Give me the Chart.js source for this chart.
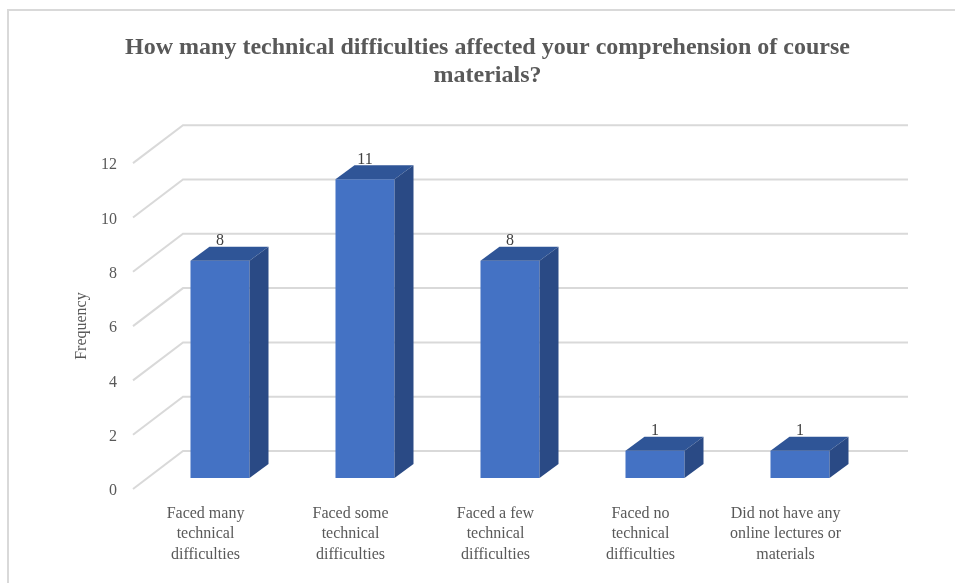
<!DOCTYPE html>
<html>
<head>
<meta charset="utf-8">
<script src="https://cdn.jsdelivr.net/npm/chart.js@4.4.1/dist/chart.umd.min.js"></script>
<style>
    html, body { margin: 0; padding: 0; background: #fff; }
</style>
</head>
<body>
<canvas id="chart" width="955" height="583"></canvas>
<script>
// Chart data
const categories = [
    ['Faced many', 'technical', 'difficulties'],
    ['Faced some', 'technical', 'difficulties'],
    ['Faced a few', 'technical', 'difficulties'],
    ['Faced no', 'technical', 'difficulties'],
    ['Did not have any', 'online lectures or', 'materials']
];
const frequency = [8, 11, 8, 1, 1];
const yTicks = [0, 2, 4, 6, 8, 10, 12];
const titleLines = ['How many technical difficulties affected your comprehension of course', 'materials?'];

// 3D look
const WALL = { dx: 50, dy: -38 };     // depth of the back wall
const BAR_POS = { dx: 14.5, dy: -11 }; // where the bar front sits
const BAR_DEPTH = { dx: 19, dy: -14 }; // bar thickness
const GRID_COLOR = '#d9d9d9';
const FRONT_COLOR = '#4472c4';
const TOP_COLOR = '#2f5597';
const SIDE_COLOR = '#2a4a85';
const TEXT_COLOR = '#595959';

const serif = "'Liberation Serif', 'Times New Roman', serif";

const threeD = {
    id: 'threeD',
    beforeDraw(chart) {
        const ctx = chart.ctx;
        ctx.save();
        ctx.fillStyle = '#fff';
        ctx.fillRect(0, 0, chart.width, chart.height);
        ctx.strokeStyle = GRID_COLOR;
        ctx.lineWidth = 2;
        ctx.strokeRect(8, 10, chart.width + 20, chart.height + 20);
        ctx.restore();
    },
    beforeDatasetsDraw(chart) {
        const ctx = chart.ctx;
        const y = chart.scales.y;
        const area = chart.chartArea;
        ctx.save();
        ctx.strokeStyle = GRID_COLOR;
        ctx.lineWidth = 2;
        yTicks.forEach(v => {
            const py = y.getPixelForValue(v);
            ctx.beginPath();
            ctx.moveTo(area.left, py);
            ctx.lineTo(area.left + WALL.dx, py + WALL.dy);
            ctx.lineTo(area.right + WALL.dx, py + WALL.dy);
            ctx.stroke();
        });
        ctx.restore();
        // shift the bars back into the box
        ctx.save();
        ctx.translate(BAR_POS.dx, BAR_POS.dy);
    },
    afterDatasetsDraw(chart) {
        const ctx = chart.ctx;
        ctx.restore();
        const meta = chart.getDatasetMeta(0);
        ctx.save();
        meta.data.forEach((bar, i) => {
            const p = bar.getProps(['x', 'y', 'base', 'width'], true);
            const l = p.x - p.width / 2 + BAR_POS.dx;
            const r = p.x + p.width / 2 + BAR_POS.dx;
            const t = p.y + BAR_POS.dy;
            const b = p.base + BAR_POS.dy;
            // top
            ctx.fillStyle = TOP_COLOR;
            ctx.beginPath();
            ctx.moveTo(l, t);
            ctx.lineTo(l + BAR_DEPTH.dx, t + BAR_DEPTH.dy);
            ctx.lineTo(r + BAR_DEPTH.dx, t + BAR_DEPTH.dy);
            ctx.lineTo(r, t);
            ctx.closePath();
            ctx.fill();
            // side
            ctx.fillStyle = SIDE_COLOR;
            ctx.beginPath();
            ctx.moveTo(r, t);
            ctx.lineTo(r + BAR_DEPTH.dx, t + BAR_DEPTH.dy);
            ctx.lineTo(r + BAR_DEPTH.dx, b + BAR_DEPTH.dy);
            ctx.lineTo(r, b);
            ctx.closePath();
            ctx.fill();
            // value label
            ctx.fillStyle = '#404040';
            ctx.font = '16px ' + serif;
            ctx.textAlign = 'center';
            ctx.textBaseline = 'middle';
            ctx.fillText(String(frequency[i]), (l + r) / 2, t - 20);
        });
        ctx.restore();
    }
};

const ctx = document.getElementById('chart').getContext('2d');
const myChart = new Chart(ctx, {
    type: 'bar',
    data: {
        labels: categories,
        datasets: [{
            label: 'Frequency',
            data: frequency,
            backgroundColor: FRONT_COLOR,
            borderWidth: 0,
            categoryPercentage: 1,
            barPercentage: 0.407
        }]
    },
    options: {
        responsive: false,
        animation: false,
        events: [],
        layout: { padding: { left: 20, right: 0, top: 0, bottom: 0 } },
        plugins: {
            legend: { display: false },
            tooltip: { enabled: false },
            title: {
                display: true,
                text: titleLines,
                color: TEXT_COLOR,
                font: { family: serif, size: 24, weight: 'bold', lineHeight: 1.17 },
                padding: { top: 34, bottom: 73 }
            }
        },
        scales: {
            x: {
                grid: { display: false, drawTicks: false },
                border: { display: false },
                ticks: {
                    color: TEXT_COLOR,
                    font: { family: serif, size: 16, lineHeight: 1.3 },
                    padding: 14,
                    maxRotation: 0,
                    autoSkip: false
                },
                afterFit(scale) { scale.height = 94; }
            },
            y: {
                min: 0,
                max: 12,
                grid: { display: false, drawTicks: false },
                border: { display: false },
                ticks: {
                    stepSize: 2,
                    color: TEXT_COLOR,
                    font: { family: serif, size: 16 },
                    padding: 16,
                    labelOffset: 2
                },
                title: {
                    display: true,
                    text: 'Frequency',
                    color: TEXT_COLOR,
                    font: { family: serif, size: 16 },
                    padding: { top: 52, bottom: 0 }
                },
                afterFit(scale) { scale.width = 113; }
            },
            // empty strip on the right, room for the back wall
            yRight: {
                position: 'right',
                min: 0,
                max: 12,
                grid: { display: false, drawTicks: false },
                border: { display: false },
                ticks: { display: false },
                afterFit(scale) { scale.width = 97; }
            }
        }
    },
    plugins: [threeD]
});
</script>
</body>
</html>
